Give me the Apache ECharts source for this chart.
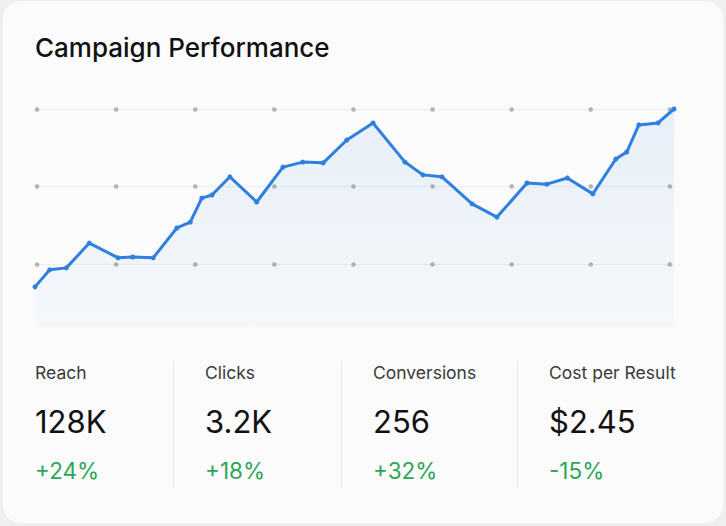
<!DOCTYPE html>
<html>
<head>
<meta charset="utf-8">
<title>Campaign Performance</title>
<script src="https://cdn.jsdelivr.net/npm/echarts@6/dist/echarts.min.js"></script>
<style>
  html, body { margin: 0; padding: 0; background: #efeff0; }
  #chart { width: 726px; height: 526px; }
</style>
</head>
<body>
<div id="chart"></div>
<script>
// data (x = day of campaign in %, y = reach index)
var days = [0, 2.3, 4.9, 8.5, 13.0, 15.3, 18.5, 22.2, 24.3, 26.1, 27.7, 30.5, 34.7, 38.8, 41.9, 45.1,
            48.8, 52.9, 57.9, 60.7, 63.7, 68.4, 72.3, 77.0, 80.1, 83.3, 87.3, 90.9, 92.6, 94.5, 97.5, 100];
var reach = [34.1, 38.5, 39.0, 45.4, 41.6, 41.8, 41.6, 49.3, 50.8, 57.0, 57.8, 62.5, 56.0, 65.0, 66.3, 66.1,
             72.0, 76.4, 66.3, 63.0, 62.5, 55.5, 52.1, 60.9, 60.6, 62.2, 58.1, 67.1, 68.9, 75.9, 76.4, 80.0];

var statLabels = ['Reach', 'Clicks', 'Conversions', 'Cost per Result'];
var statValues = ['128K', '3.2K', '256', '$2.45'];
var statChanges = ['+24%', '+18%', '+32%', '-15%'];

var font = 'Inter, "Noto Sans", sans-serif';
var colX = [35, 205, 373, 549];   // left edge of each stat column
var myChart = echarts.init(document.getElementById('chart'), null, {renderer: 'svg'});

// bottom stat row
var statGraphics = [];
statLabels.forEach(function (label, i) {
    var x = colX[i];
    if (i > 0) {
        statGraphics.push({
            type: 'rect',
            shape: {x: x - 32, y: 361, width: 1, height: 127},
            style: {fill: '#e6e6e6'}
        });
    }
    statGraphics.push({
        type: 'text', x: x, y: 372,
        style: {text: label, font: '400 17.5px ' + font, fill: '#3a3a3a', textVerticalAlign: 'middle'}
    });
    statGraphics.push({
        type: 'text', x: x, y: 421,
        style: {text: statValues[i], font: '400 31px ' + font, fill: '#111', textVerticalAlign: 'middle'}
    });
    statGraphics.push({
        type: 'text', x: x, y: 470,
        style: {text: statChanges[i], font: '400 22.5px ' + font, fill: '#2aa757', textVerticalAlign: 'middle'}
    });
});

myChart.setOption({
    animation: false,
    title: {
        text: 'Campaign Performance',
        left: 35,
        top: 34,
        padding: 0,
        textStyle: {fontFamily: font, fontSize: 26, fontWeight: 500, color: '#111'}
    },
    graphic: [{
        type: 'rect',
        z: -10,
        shape: {x: 3, y: 1, width: 720, height: 522, r: 18},
        style: {fill: '#fbfbfb'}
    }].concat(statGraphics),
    grid: {
        left: 35,
        right: 52,
        top: 109,
        bottom: 184.5
    },
    xAxis: {
        type: 'value',
        min: 0,
        max: 100,
        show: false
    },
    yAxis: [{
        type: 'value',
        min: 20,
        max: 80,
        interval: 20,
        axisLine: {show: false},
        axisTick: {show: false},
        axisLabel: {show: false},
        splitLine: {
            showMinLine: false,
            lineStyle: {color: '#ededed', width: 1}
        }
    }, {
        type: 'value',
        min: 20,
        max: 80,
        interval: 20,
        position: 'left',
        axisLine: {show: false},
        axisTick: {show: false},
        axisLabel: {show: false},
        splitLine: {
            showMinLine: false,
            lineStyle: {color: '#b3b3b3', width: 4.5, type: [0.1, 79], cap: 'round', dashOffset: -2}
        }
    }],
    series: [{
        type: 'line',
        data: days.map(function (d, i) { return [d, reach[i]]; }),
        symbol: 'circle',
        symbolSize: 5,
        clip: false,
        itemStyle: {color: '#2f7fe0'},
        lineStyle: {color: '#2f7fe0', width: 3},
        areaStyle: {
            origin: 23.7,
            color: new echarts.graphic.LinearGradient(0, 0, 0, 1, [
                {offset: 0, color: 'rgba(47,127,224,0.14)'},
                {offset: 1, color: 'rgba(47,127,224,0.04)'}
            ])
        }
    }]
});
window.onresize = myChart.resize;
</script>
</body>
</html>
